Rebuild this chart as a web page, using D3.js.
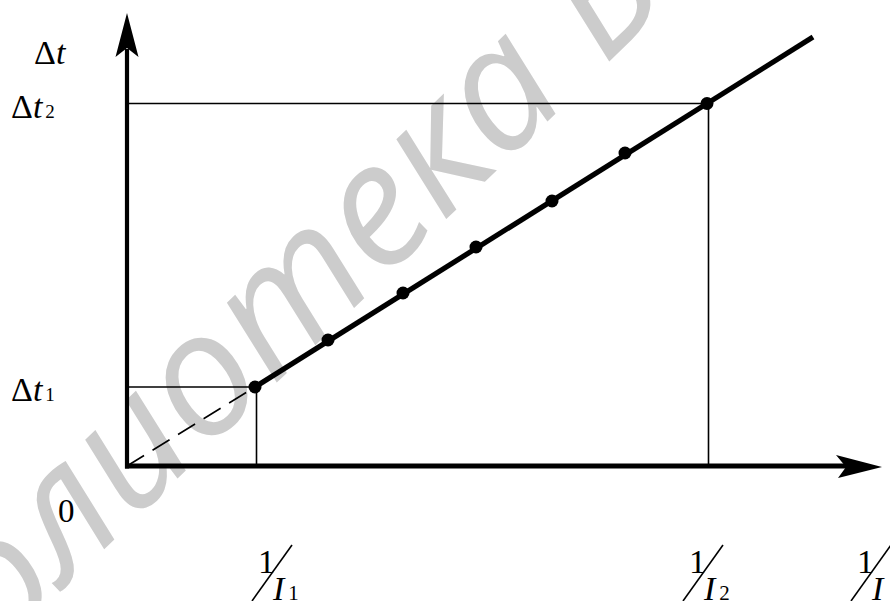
<!DOCTYPE html>
<html>
<head>
<meta charset="utf-8">
<script src="https://cdn.jsdelivr.net/npm/d3@7/dist/d3.min.js"></script>
<style>
  html, body { margin: 0; padding: 0; background: #fff; }
  svg { display: block; }
</style>
</head>
<body>
<svg id="chart" width="890" height="601"></svg>
<script>
// Measured points: reciprocal current 1/I (x) vs. time interval Δt (y)
const invCurrent = [2.56, 4.02, 5.52, 6.98, 8.50, 9.96, 11.6];
const deltaT     = [1.58, 2.52, 3.46, 4.38, 5.30, 6.26, 7.25];
// Where the fitted line is drawn to beyond the last point
const fitEnd = [13.72, 8.58];
// Axis extents (arrow tips)
const axisMax = [15.1, 9.06];
// Indices of the two reference points (I1, I2)
const refIdx = [0, 6];
const yRefLabels = [["Δ", "t", "1"], ["Δ", "t", "2"]];
const xRefLabels = ["1", "2"];
const watermark = "Библиотека БГУИР";

const W = 890, H = 601;
const svg = d3.select("#chart");

const x = d3.scaleLinear().domain([0, 15]).range([127, 877]);
const y = d3.scaleLinear().domain([0, 9]).range([466, 16]);

// Faint library watermark beneath the drawing
svg.append("text")
  .attr("transform", "translate(-143,788) rotate(-44)")
  .style("font-family", "'Open Sans', 'Noto Sans', sans-serif")
  .style("font-style", "italic")
  .style("font-size", "172px")
  .attr("fill", "#cccccc")
  .text(watermark);

const serif = "'Liberation Serif', 'Times New Roman', Times, serif";

// Guide lines from the reference points to the axes
refIdx.forEach(i => {
  svg.append("line")
    .attr("x1", x(0)).attr("y1", y(deltaT[i]))
    .attr("x2", x(invCurrent[i])).attr("y2", y(deltaT[i]))
    .attr("stroke", "#000").attr("stroke-width", 1.6);
  svg.append("line")
    .attr("x1", x(invCurrent[i]) + 1.5).attr("y1", y(deltaT[i]))
    .attr("x2", x(invCurrent[i]) + 1.5).attr("y2", y(0))
    .attr("stroke", "#000").attr("stroke-width", 1.6);
});

// Dashed extrapolation to the origin
svg.append("line")
  .attr("x1", x(0)).attr("y1", y(0))
  .attr("x2", x(invCurrent[0])).attr("y2", y(deltaT[0]))
  .attr("stroke", "#000").attr("stroke-width", 1.6)
  .attr("stroke-dasharray", "20,10");

// Axes with arrowheads
svg.append("line")
  .attr("x1", x(0)).attr("y1", y(0) + 2.5)
  .attr("x2", x(0)).attr("y2", y(axisMax[1]) + 36)
  .attr("stroke", "#000").attr("stroke-width", 4.2);
svg.append("line")
  .attr("x1", x(0) - 2).attr("y1", y(0))
  .attr("x2", x(axisMax[0]) - 34).attr("y2", y(0))
  .attr("stroke", "#000").attr("stroke-width", 5);

const ty = [x(0), y(axisMax[1])];
svg.append("path")
  .attr("d", `M${ty[0]},${ty[1]} L${ty[0] + 11.5},${ty[1] + 44} L${ty[0]},${ty[1] + 35} L${ty[0] - 11.5},${ty[1] + 44} Z`)
  .attr("fill", "#000");
const tx = [x(axisMax[0]), y(0) + 1];
svg.append("path")
  .attr("d", `M${tx[0]},${tx[1]} L${tx[0] - 46},${tx[1] - 12} L${tx[0] - 36},${tx[1]} L${tx[0] - 44},${tx[1] + 11} Z`)
  .attr("fill", "#000");

// Fitted straight line through the measurements
svg.append("line")
  .attr("x1", x(invCurrent[0])).attr("y1", y(deltaT[0]))
  .attr("x2", x(fitEnd[0])).attr("y2", y(fitEnd[1]))
  .attr("stroke", "#000").attr("stroke-width", 5.2);

svg.selectAll("circle.pt")
  .data(d3.zip(invCurrent, deltaT))
  .join("circle")
  .attr("class", "pt")
  .attr("cx", d => x(d[0])).attr("cy", d => y(d[1]))
  .attr("r", 6.5)
  .attr("fill", "#000");

// Axis labels
function serifText(px, py, size) {
  return svg.append("text")
    .attr("x", px).attr("y", py)
    .style("font-family", serif).style("font-size", size + "px")
    .attr("fill", "#000");
}
function deltaLabel(px, py, sub) {
  const t = serifText(px, py, 34);
  t.append("tspan").text("Δ");
  t.append("tspan").style("font-style", "italic").text("t");
  if (sub) t.append("tspan").style("font-size", "19px").attr("dx", 3).text(sub);
}
deltaLabel(34, 64, null);
yRefLabels.forEach((lab, k) => {
  deltaLabel(11, y(deltaT[refIdx[k]]) + 14, lab[2]);
});

serifText(58, 522, 33).text("0");

// Bevelled fractions 1/I under the x axis
function recipLabel(cx, sub) {
  serifText(cx - 14, 573, 34).text("1");
  svg.append("line")
    .attr("x1", cx - 20).attr("y1", 601)
    .attr("x2", cx + 20).attr("y2", 545)
    .attr("stroke", "#000").attr("stroke-width", 1.6);
  const t = serifText(cx + 1, 600, 34);
  t.append("tspan").style("font-style", "italic").text("I");
  if (sub) t.append("tspan").style("font-size", "21px").attr("dx", 4).text(sub);
}
recipLabel(x(invCurrent[refIdx[0]]) + 17, xRefLabels[0]);
recipLabel(x(invCurrent[refIdx[1]]) - 4, xRefLabels[1]);
recipLabel(x(axisMax[0]) - 11, null);
</script>
</body>
</html>
